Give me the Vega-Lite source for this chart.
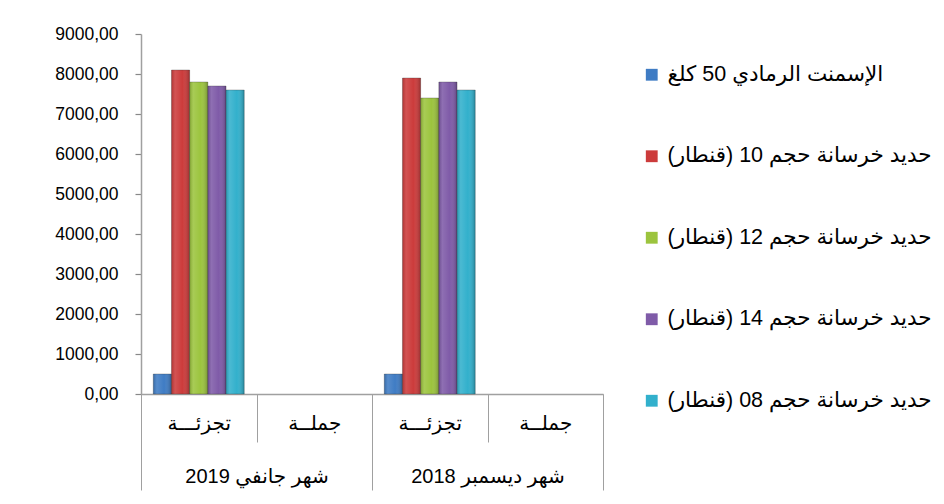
{
  "$schema": "https://vega.github.io/schema/vega-lite/v6.json",
  "width": 462,
  "height": 360,
  "autosize": {"type": "none"},
  "padding": {"left": 141, "top": 34, "right": 341, "bottom": 110},
  "background": "white",
  "config": {
    "view": {"stroke": null},
    "font": "Liberation Sans, DejaVu Sans, sans-serif"
  },
  "data": {
    "values": [
      {"cat": "شهر جانفي 2019|تجزئـــة", "series": "الإسمنت الرمادي 50 كلغ", "value": 500},
      {"cat": "شهر جانفي 2019|تجزئـــة", "series": "حديد خرسانة حجم 10 (قنطار)", "value": 8100},
      {"cat": "شهر جانفي 2019|تجزئـــة", "series": "حديد خرسانة حجم 12 (قنطار)", "value": 7800},
      {"cat": "شهر جانفي 2019|تجزئـــة", "series": "حديد خرسانة حجم 14 (قنطار)", "value": 7700},
      {"cat": "شهر جانفي 2019|تجزئـــة", "series": "حديد خرسانة حجم 08 (قنطار)", "value": 7600},
      {"cat": "شهر ديسمبر  2018|تجزئـــة", "series": "الإسمنت الرمادي 50 كلغ", "value": 500},
      {"cat": "شهر ديسمبر  2018|تجزئـــة", "series": "حديد خرسانة حجم 10 (قنطار)", "value": 7900},
      {"cat": "شهر ديسمبر  2018|تجزئـــة", "series": "حديد خرسانة حجم 12 (قنطار)", "value": 7400},
      {"cat": "شهر ديسمبر  2018|تجزئـــة", "series": "حديد خرسانة حجم 14 (قنطار)", "value": 7800},
      {"cat": "شهر ديسمبر  2018|تجزئـــة", "series": "حديد خرسانة حجم 08 (قنطار)", "value": 7600}
    ]
  },
  "layer": [
    {
      "mark": {"type": "bar", "strokeWidth": 0.6, "stroke": "#333333", "strokeOpacity": 0.5},
      "encoding": {
        "x": {
          "field": "cat", "type": "nominal",
          "scale": {"domain": ["شهر جانفي 2019|تجزئـــة", "شهر جانفي 2019|جملــة", "شهر ديسمبر  2018|تجزئـــة", "شهر ديسمبر  2018|جملــة"], "paddingInner": 0, "paddingOuter": 0},
          "axis": {
            "orient": "bottom", "title": null,
            "labelExpr": "datum.value ? split(datum.value, '|')[1] : ''",
            "labelAngle": 0, "labelOverlap": false, "labelBound": false,
            "tickBand": "extent", "tickSize": 48, "tickColor": "#a0a0a0", "tickWidth": 1,
            "domainColor": "#a0a0a0", "domainWidth": 1.5,
            "labelFontSize": 20, "labelColor": "#000000", "labelPadding": -29,
            "labelFont": "Liberation Sans, DejaVu Sans"
          }
        },
        "xOffset": {
          "field": "series", "type": "nominal",
          "scale": {"domain": ["الإسمنت الرمادي 50 كلغ", "حديد خرسانة حجم 10 (قنطار)", "حديد خرسانة حجم 12 (قنطار)", "حديد خرسانة حجم 14 (قنطار)", "حديد خرسانة حجم 08 (قنطار)"], "paddingInner": 0, "paddingOuter": 0.675}
        },
        "y": {
          "field": "value", "type": "quantitative",
          "scale": {"domain": [0, 9000], "nice": false},
          "axis": {
            "orient": "left", "title": null, "grid": false,
            "values": [0, 1000, 2000, 3000, 4000, 5000, 6000, 7000, 8000, 9000],
            "labelExpr": "replace(format(datum.value, '.2f'), '.', ',')",
            "labelOverlap": false, "labelBound": false,
            "domainColor": "#a0a0a0", "domainWidth": 1.5,
            "ticks": true, "tickColor": "#888888", "tickSize": 6, "tickWidth": 1.2,
            "labelFontSize": 17.5, "labelColor": "#000000", "labelPadding": 17,
            "labelFont": "Liberation Sans"
          }
        },
        "color": {
          "field": "series", "type": "nominal",
          "scale": {
            "domain": ["الإسمنت الرمادي 50 كلغ", "حديد خرسانة حجم 10 (قنطار)", "حديد خرسانة حجم 12 (قنطار)", "حديد خرسانة حجم 14 (قنطار)", "حديد خرسانة حجم 08 (قنطار)"],
            "range": ["#3f7cc4", "#cc3b3b", "#9cc43e", "#7f5ba8", "#32b0cc"]
          },
          "legend": {
            "title": null, "orient": "none", "legendX": 500, "legendY": 30,
            "symbolType": "square", "symbolSize": 140, "symbolStrokeWidth": 0,
            "labelFontSize": 21.5, "labelColor": "#000000", "labelLimit": 400,
            "labelOffset": 5, "rowPadding": 58.5, "padding": 0,
            "labelFont": "Liberation Sans, DejaVu Sans"
          }
        }
      }
    },
    {
      "mark": {
        "type": "bar",
        "fill": {
          "gradient": "linear", "x1": 0, "x2": 1, "y1": 0, "y2": 0,
          "stops": [
            {"offset": 0, "color": "rgba(0,0,0,0.15)"},
            {"offset": 0.2, "color": "rgba(255,255,255,0.12)"},
            {"offset": 0.6, "color": "rgba(255,255,255,0)"},
            {"offset": 1, "color": "rgba(0,0,0,0.25)"}
          ]
        }
      },
      "encoding": {
        "x": {"field": "cat", "type": "nominal", "axis": null},
        "xOffset": {"field": "series", "type": "nominal"},
        "y": {"field": "value", "type": "quantitative", "axis": null}
      }
    },
    {
      "mark": {"type": "point", "opacity": 0},
      "encoding": {
        "x": {
          "field": "cat", "type": "nominal",
          "axis": {
            "orient": "bottom", "title": null, "domain": false,
            "labelExpr": "datum.value && split(datum.value, '|')[1] === 'تجزئـــة' ? split(datum.value, '|')[0] : ''",
            "labelAngle": 0, "labelOverlap": false, "labelBound": false,
            "labelOffset": 57.75,
            "tickBand": "extent", "tickSize": 96, "tickColor": "#a0a0a0", "tickWidth": 1,
            "tickOpacity": {"condition": {"test": "datum.value === 'شهر جانفي 2019|تجزئـــة' || datum.value === 'شهر ديسمبر  2018|تجزئـــة'", "value": 0}, "value": 1},
            "labelFontSize": 20, "labelColor": "#000000", "labelPadding": -24,
            "labelFont": "Liberation Sans, DejaVu Sans"
          }
        }
      }
    }
  ],
  "resolve": {"axis": {"x": "independent", "y": "independent"}}
}
